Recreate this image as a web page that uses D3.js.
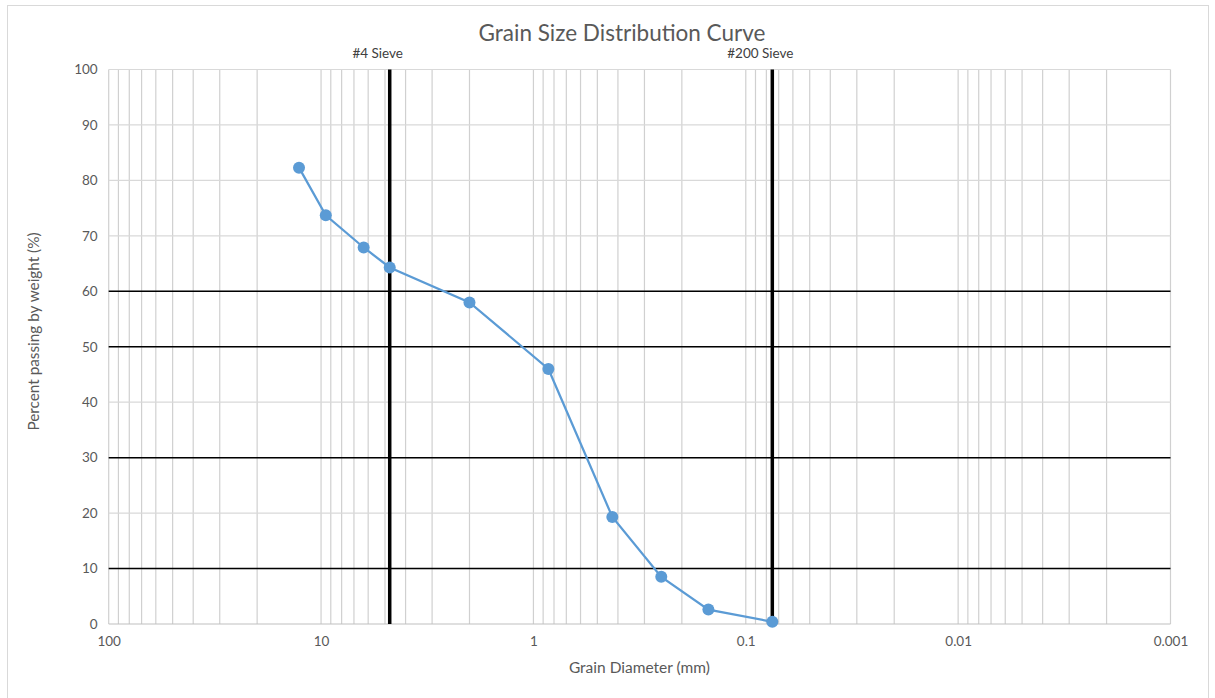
<!DOCTYPE html>
<html>
<head>
<meta charset="utf-8">
<script src="https://cdnjs.cloudflare.com/ajax/libs/d3/7.8.5/d3.min.js"></script>
<style>
  body { margin: 0; background: #fff; }
  text { font-family: Lato, "Liberation Sans", sans-serif; }
  .tick line { display: none; }
  .domain { display: none; }
  .tick text { fill: #595959; font-size: 13.5px; }
</style>
</head>
<body>
<div class="gsd"></div>
<script>
// sieve results: grain diameter (mm) and percent passing
var diameters = [12.7, 9.5, 6.3, 4.75, 2.0, 0.85, 0.425, 0.25, 0.15, 0.075];
var percentPassing = [82.3, 73.7, 67.9, 64.3, 58.0, 46.0, 19.3, 8.5, 2.6, 0.4];

var sieveNames = ["#4 Sieve", "#200 Sieve"];
var sieveSizes = [4.75, 0.075];

var refLevels = [10, 30, 50, 60];

var xTickValues = [100, 10, 1, 0.1, 0.01, 0.001];
var xTickLabels = ["100", "10", "1", "0.1", "0.01", "0.001"];
var yTickValues = [0, 10, 20, 30, 40, 50, 60, 70, 80, 90, 100];

var W = 1215, H = 698;
var margin = {top: 69.5, right: 44.5, bottom: 74, left: 108.7},
    width = W - margin.left - margin.right,
    height = H - margin.top - margin.bottom;

var x = d3.scaleLog()
  .domain([100, 0.001])
  .range([0, width]);

var y = d3.scaleLinear()
  .domain([0, 100])
  .range([height, 0]);

var root = d3.select(".gsd").append("svg")
    .attr("width", W)
    .attr("height", H);

// outer chart border
root.append("rect")
  .attr("x", 7.5).attr("y", 5.5)
  .attr("width", 1201).attr("height", 700)
  .attr("fill", "#fff")
  .attr("stroke", "#d9d9d9");

root.append("text")
  .attr("x", 622)
  .attr("y", 41)
  .attr("text-anchor", "middle")
  .style("font-size", "22.5px")
  .style("fill", "#595959")
  .text("Grain Size Distribution Curve");

var svg = root.append("g")
    .attr("transform", "translate(" + margin.left + "," + margin.top + ")");

// vertical log gridlines (1..9 per decade)
svg.append("g")
  .selectAll("line")
  .data(x.ticks())
  .enter().append("line")
    .attr("x1", function (d) { return x(d); })
    .attr("x2", function (d) { return x(d); })
    .attr("y1", 0)
    .attr("y2", height)
    .attr("stroke", "#d0d0d0")
    .attr("stroke-width", 1.2);

// horizontal gridlines
svg.append("g")
  .selectAll("line")
  .data(yTickValues)
  .enter().append("line")
    .attr("x1", 0)
    .attr("x2", width)
    .attr("y1", function (d) { return y(d); })
    .attr("y2", function (d) { return y(d); })
    .attr("stroke", function (d) { return d === 0 ? "#bfbfbf" : "#d9d9d9"; })
    .attr("stroke-width", 1.2);

// reference levels in black
svg.append("g")
  .selectAll("line")
  .data(refLevels)
  .enter().append("line")
    .attr("x1", 0)
    .attr("x2", width)
    .attr("y1", function (d) { return y(d); })
    .attr("y2", function (d) { return y(d); })
    .attr("stroke", "#000")
    .attr("stroke-width", 1.5);

// sieve markers
var sieves = svg.append("g")
  .selectAll("g")
  .data(sieveSizes)
  .enter().append("g");

sieves.append("line")
  .attr("x1", function (d) { return x(d); })
  .attr("x2", function (d) { return x(d); })
  .attr("y1", y(100))
  .attr("y2", y(0))
  .attr("stroke", "#000")
  .attr("stroke-width", 3.5);

sieves.append("text")
  .attr("x", function (d) { return x(d) - 12; })
  .attr("y", -12)
  .attr("text-anchor", "middle")
  .style("font-size", "13.5px")
  .style("fill", "#404040")
  .text(function (d, i) { return sieveNames[i]; });

// axes
var xAxis = d3.axisBottom(x)
  .tickValues(xTickValues)
  .tickFormat(function (d, i) { return xTickLabels[i]; })
  .tickSize(0)
  .tickPadding(12);

var yAxis = d3.axisLeft(y)
  .tickValues(yTickValues)
  .tickSize(0)
  .tickPadding(11);

svg.append("g")
  .attr("class", "x axis")
  .attr("transform", "translate(0," + height + ")")
  .call(xAxis);

svg.append("g")
  .attr("class", "y axis")
  .call(yAxis);

svg.append("text")
  .attr("x", x(1) + 106)
  .attr("y", height + 49)
  .attr("text-anchor", "middle")
  .style("font-size", "15.5px")
  .style("fill", "#595959")
  .text("Grain Diameter (mm)");

svg.append("text")
  .attr("transform", "translate(" + (-70) + "," + 262 + ") rotate(-90)")
  .attr("text-anchor", "middle")
  .style("font-size", "15.3px")
  .style("fill", "#595959")
  .text("Percent passing by weight (%)");

// data
var data = diameters.map(function (d, i) { return {d: d, p: percentPassing[i]}; });

var line = d3.line()
  .x(function (d) { return x(d.d); })
  .y(function (d) { return y(d.p); });

svg.append("path")
  .datum(data)
  .attr("fill", "none")
  .attr("stroke", "#5b9bd5")
  .attr("stroke-width", 2.25)
  .attr("d", line);

svg.append("g")
  .selectAll("circle")
  .data(data)
  .enter().append("circle")
    .attr("cx", function (d) { return x(d.d); })
    .attr("cy", function (d) { return y(d.p); })
    .attr("r", 6)
    .attr("fill", "#5b9bd5");
</script>
</body>
</html>
